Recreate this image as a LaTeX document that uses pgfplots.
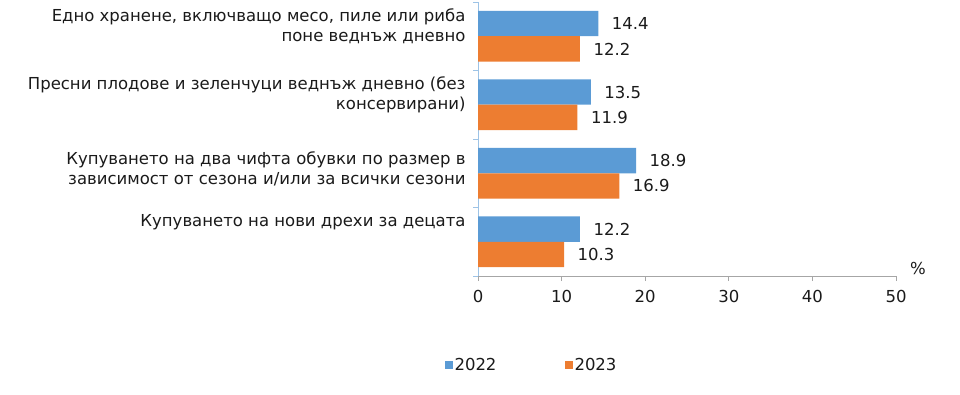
\documentclass[border=0pt]{standalone}
\usepackage{pgfplots}
\pgfplotsset{compat=1.18}
\usepackage{fontspec}
\setmainfont{DejaVu Sans}
\definecolor{cblue}{HTML}{5B9BD5}
\definecolor{corange}{HTML}{ED7D31}
\definecolor{txt}{HTML}{1A1A1A}
\definecolor{xax}{HTML}{A6A6A6}
\definecolor{yax}{HTML}{9DC3E6}
\newcommand{\fs}{\fontsize{16.5}{20}\selectfont}
\begin{document}
\begin{tikzpicture}
\path[use as bounding box] (0,0) rectangle (960pt,394pt);
\begin{axis}[
  at={(478pt,118pt)}, anchor=south west,
  scale only axis, width=418pt, height=274pt,
  xmin=0, xmax=50, ymin=-0.5, ymax=3.5,
  xtick={0,10,...,50},
  ytick={-0.5,0.5,1.5,2.5,3.5}, yticklabels={},
  axis x line*=bottom, axis y line*=left,
  x axis line style={draw=xax, line width=0.8pt, -},
  y axis line style={draw=yax, line width=0.8pt, -},
  x tick style={draw=xax, line width=0.8pt},
  y tick style={draw=yax, line width=0.8pt},
  tick align=outside, major tick length=5pt,
  /pgf/number format/assume math mode=true,
  tick label style={font=\fs, text=txt},
  xticklabel style={yshift=-6pt},
  clip=false,
  xbar, bar width=0.372, bar shift=0,
  point meta=x,
  nodes near coords,
  nodes near coords align={horizontal},
  nodes near coords style={font=\fs, text=txt, anchor=west, xshift=10pt,
    /pgf/number format/.cd, fixed, fixed zerofill, precision=1, assume math mode=true},
  legend columns=2,
  legend style={draw=none, fill=none, at={(0.128,-0.325)}, anchor=center,
    font=\fs, text=txt,
    /tikz/every even column/.append style={column sep=66pt}},
  legend image code/.code={\fill[#1,draw=none] (0pt,-4pt) rectangle (8pt,4pt);},
]
\addplot[fill=cblue, draw=none] coordinates {(12.2,0.186) (18.9,1.186) (13.5,2.186) (14.4,3.186)};
\addlegendentry{2022}
\addplot[fill=corange, draw=none] coordinates {(10.3,-0.186) (16.9,0.814) (11.9,1.814) (12.2,2.814)};
\addlegendentry{2023}
\begin{scope}[every node/.style={anchor=north east, align=right, text=txt, font=\fs, xshift=-9pt}]
\node[yshift=-3pt] at (axis cs:0,3.5) {Едно хранене, включващо месо, пиле или риба\\поне веднъж дневно};
\node[yshift=-3pt] at (axis cs:0,2.5) {Пресни плодове и зеленчуци веднъж дневно (без\\консервирани)};
\node[yshift=-9pt] at (axis cs:0,1.5) {Купуването на два чифта обувки по размер в\\зависимост от сезона и/или за всички сезони};
\node[yshift=-3pt] at (axis cs:0,0.5) {Купуването на нови дрехи за децата};
\end{scope}
\node[font=\fs, text=txt] at ([xshift=22pt,yshift=8pt]axis cs:50,-0.5) {\%};
\end{axis}
\end{tikzpicture}
\end{document}
